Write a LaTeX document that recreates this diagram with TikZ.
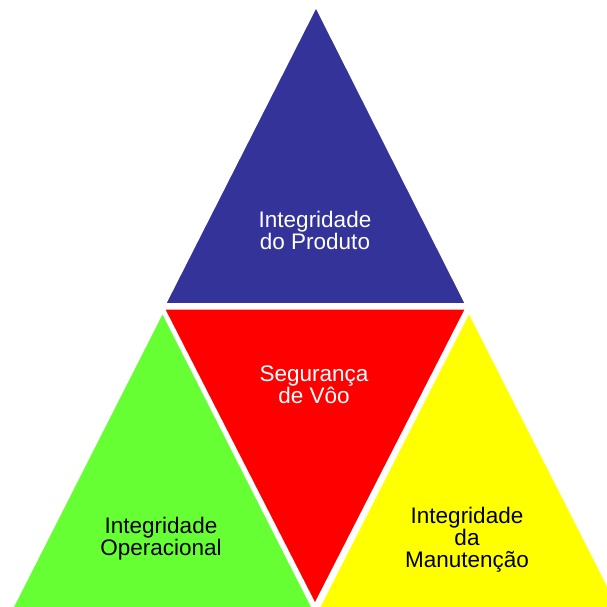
\documentclass[tikz,border=0pt]{standalone}
\usepackage{fontspec}
\setmainfont{Liberation Sans}
\definecolor{tblue}{HTML}{333399}
\definecolor{tred}{HTML}{FF0000}
\definecolor{tgreen}{HTML}{66FF33}
\definecolor{tyellow}{HTML}{FFFF00}
\newcommand{\tightlbl}{\fontsize{22.5}{22}\selectfont\lineskiplimit=-30pt\relax}
\begin{document}
\begin{tikzpicture}[x=1pt,y=1pt,
  piece/.style={draw=white,line width=2.5pt,line join=miter},
  lbl/.style={align=center,inner sep=0pt,font=\tightlbl}]
\useasboundingbox (0,0) rectangle (607,607);
\fill[white] (0,0) rectangle (607,607);
\clip (0,0) rectangle (607,607);
\coordinate (bA) at (316,601);
\coordinate (bL) at (164.5,302.5);
\coordinate (bR) at (466.5,302.5);
\coordinate (rL) at (163.5,298.5);
\coordinate (rR) at (466.5,298.5);
\coordinate (rB) at (315,2);
\coordinate (gA) at (162.5,295.5);
\coordinate (gL) at (10,-5);
\coordinate (gR) at (315,-5);
\coordinate (yA) at (469,295.5);
\coordinate (yL) at (316.5,-5);
\coordinate (yR) at (621.5,-5);
\fill[tblue,piece] (bA) -- (bL) -- (bR) -- cycle;
\fill[tred,piece] (rL) -- (rR) -- (rB) -- cycle;
\fill[tgreen,piece] (gA) -- (gL) -- (gR) -- cycle;
\fill[tyellow,piece] (yA) -- (yL) -- (yR) -- cycle;
\node[lbl,text=white] (tprod) at (315,377) {Integridade\\do Produto};
\node[lbl,text=white] (tseg) at (314,222.5) {Segurança\\de Vôo};
\node[lbl,text=black] (toper) at (161,68.7) {Integridade\\Operacional};
\node[lbl,text=black] (tman) at (467,67) {Integridade\\da\\Manutenção};
\end{tikzpicture}
\end{document}
